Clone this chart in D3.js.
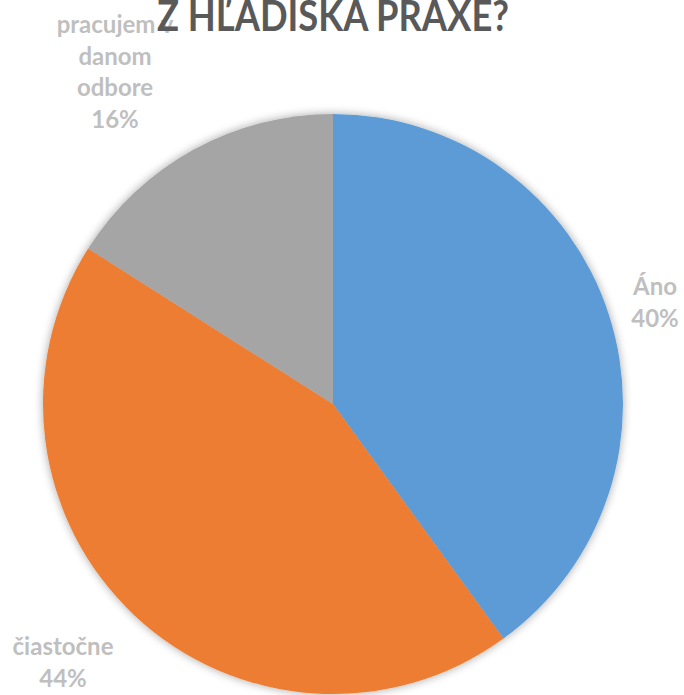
<!DOCTYPE html>
<html>
<head>
<meta charset="utf-8">
<script src="https://cdn.jsdelivr.net/npm/d3@7"></script>
<style>
  html, body { margin: 0; padding: 0; background: #ffffff; }
  svg { display: block; }
</style>
</head>
<body>
<svg id="chart" width="684" height="695"></svg>
<script>
// Survey answers, clockwise from 12 o'clock
const categories = ["Áno", "čiastočne", "pracujem v danom odbore"];
const shares = [40, 44, 16];
const colors = ["#5B9BD5", "#ED7D31", "#A5A5A5"];
const titleText = "Z HĽADISKA PRAXE?";

const width = 684, height = 695;
const cx = 333, cy = 404, radius = 290;

const svg = d3.select("#chart");

// soft shadow under the pie
const defs = svg.append("defs");
const f = defs.append("filter").attr("id", "pieShadow")
  .attr("x", "-20%").attr("y", "-20%").attr("width", "140%").attr("height", "140%");
f.append("feGaussianBlur").attr("in", "SourceAlpha").attr("stdDeviation", 5).attr("result", "blur");
f.append("feComponentTransfer").attr("in", "blur").attr("result", "shadow")
  .append("feFuncA").attr("type", "linear").attr("slope", 0.35);
const merge = f.append("feMerge");
merge.append("feMergeNode").attr("in", "shadow");
merge.append("feMergeNode").attr("in", "SourceGraphic");

const data = categories.map((c, i) => ({ name: c, value: shares[i], color: colors[i] }));

const pie = d3.pie().value(d => d.value).sort(null);
const arc = d3.arc().innerRadius(0).outerRadius(radius);
const arcs = pie(data);

const g = svg.append("g").attr("transform", `translate(${cx},${cy})`);
g.append("g").attr("filter", "url(#pieShadow)")
  .selectAll("path")
  .data(arcs)
  .join("path")
  .attr("d", arc)
  .attr("fill", d => d.data.color);

// data labels, outside the slices
const labelFont = "Lato, 'Open Sans', sans-serif";
const labelSpecs = [
  { x: 655, y: 295 },
  { x: 63, y: 655 },
  { x: 115, y: 33 }
];
const lineGap = 31.5;
arcs.forEach((a, i) => {
  const spec = labelSpecs[i];
  const lines = i === 2
    ? ["pracujem v", "danom", "odbore", a.data.value + "%"]
    : [a.data.name, a.data.value + "%"];
  const t = svg.append("text")
    .attr("text-anchor", "middle")
    .attr("font-family", labelFont)
    .attr("font-weight", "bold")
    .attr("font-size", 24)
    .attr("fill", "#BFBFBF");
  lines.forEach((ln, k) => {
    t.append("tspan").attr("x", spec.x).attr("y", spec.y + k * lineGap).text(ln);
  });
});

// title (drawn last so it sits over the top-left label)
svg.append("text")
  .attr("x", 333)
  .attr("y", 31)
  .attr("text-anchor", "middle")
  .attr("font-family", labelFont)
  .attr("font-weight", "bold")
  .attr("font-size", 42)
  .attr("textLength", 352)
  .attr("lengthAdjust", "spacingAndGlyphs")
  .attr("fill", "#595959")
  .text(titleText);
</script>
</body>
</html>
